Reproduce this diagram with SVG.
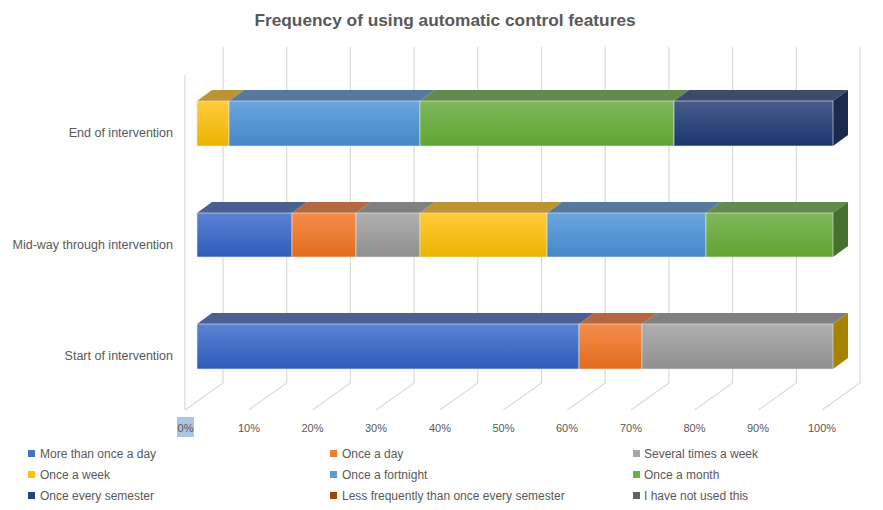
<svg xmlns="http://www.w3.org/2000/svg" width="883" height="510" viewBox="0 0 883 510">
<defs>
<linearGradient id="gBlue" x1="0" y1="0" x2="0" y2="1"><stop offset="0" stop-color="#5c82d3"/><stop offset="1" stop-color="#2e5db9"/></linearGradient>
<linearGradient id="gOrange" x1="0" y1="0" x2="0" y2="1"><stop offset="0" stop-color="#f48c4c"/><stop offset="1" stop-color="#e46b1c"/></linearGradient>
<linearGradient id="gGrey" x1="0" y1="0" x2="0" y2="1"><stop offset="0" stop-color="#b0b0b0"/><stop offset="1" stop-color="#8f8f8f"/></linearGradient>
<linearGradient id="gYellow" x1="0" y1="0" x2="0" y2="1"><stop offset="0" stop-color="#ffcb3c"/><stop offset="1" stop-color="#ebb400"/></linearGradient>
<linearGradient id="gFort" x1="0" y1="0" x2="0" y2="1"><stop offset="0" stop-color="#6ba6df"/><stop offset="1" stop-color="#4487c9"/></linearGradient>
<linearGradient id="gMonth" x1="0" y1="0" x2="0" y2="1"><stop offset="0" stop-color="#7eb85c"/><stop offset="1" stop-color="#61a433"/></linearGradient>
<linearGradient id="gSem" x1="0" y1="0" x2="0" y2="1"><stop offset="0" stop-color="#485b8c"/><stop offset="1" stop-color="#1d356e"/></linearGradient>
</defs>
<style>
.grid{stroke:#d9d9d9;stroke-width:1.2;fill:none}
.txt{font-family:"Liberation Sans",Arial,sans-serif;fill:#595959}
.cat{font-size:12.5px;text-anchor:end}
.ax{font-size:11px;text-anchor:middle}
.leg{font-size:12px}
.title{font-size:17.3px;font-weight:bold;text-anchor:middle}
.front{stroke:#e6e6e6;stroke-width:0.6}
</style>
<rect width="883" height="510" fill="#ffffff"/>
<text class="txt title" x="445" y="26">Frequency of using automatic control features</text>

<g id="gridlines">
<line class="grid" x1="185" y1="75" x2="185" y2="410"/>
<path class="grid" d="M223 47V383L185 410 M286.7 47V383L248.7 410 M350.4 47V383L312.4 410 M414.1 47V383L376.1 410 M477.8 47V383L439.8 410 M541.5 47V383L503.5 410 M605.2 47V383L567.2 410 M668.9 47V383L630.9 410 M732.6 47V383L694.6 410 M796.3 47V383L758.3 410 M860 47V383L822 410"/>
</g>

<g id="axis-labels">
<rect x="177" y="417" width="17" height="20" fill="#a9c7df"/>
<text class="txt ax" x="185.5" y="432">0%</text>
<text class="txt ax" x="249" y="432">10%</text>
<text class="txt ax" x="312.5" y="432">20%</text>
<text class="txt ax" x="376" y="432">30%</text>
<text class="txt ax" x="440" y="432">40%</text>
<text class="txt ax" x="503.5" y="432">50%</text>
<text class="txt ax" x="567" y="432">60%</text>
<text class="txt ax" x="631" y="432">70%</text>
<text class="txt ax" x="694.5" y="432">80%</text>
<text class="txt ax" x="758" y="432">90%</text>
<text class="txt ax" x="822" y="432">100%</text>
</g>

<g id="category-labels">
<text class="txt cat" x="173" y="137">End of intervention</text>
<text class="txt cat" x="173" y="249">Mid-way through intervention</text>
<text class="txt cat" x="173" y="360">Start of intervention</text>
</g>

<g id="bar-end">
<polygon points="197,101 212,90 244,90 229,101" fill="#bd9333"/>
<polygon points="229,101 244,90 435,90 420,101" fill="#5679a2"/>
<polygon points="420,101 435,90 689,90 674,101" fill="#628a4b"/>
<polygon points="674,101 689,90 848,90 833,101" fill="#3e4a69"/>
<polygon points="833,101 848,90 848,135 833,146" fill="#1c2a4e"/>
<rect class="front" x="197" y="101" width="32" height="45" fill="url(#gYellow)"/>
<rect class="front" x="229" y="101" width="191" height="45" fill="url(#gFort)"/>
<rect class="front" x="420" y="101" width="254" height="45" fill="url(#gMonth)"/>
<rect class="front" x="674" y="101" width="159" height="45" fill="url(#gSem)"/>
</g>

<g id="bar-mid">
<polygon points="197,213 212,202 307,202 292,213" fill="#4a6093"/>
<polygon points="292,213 307,202 371,202 356,213" fill="#b56840"/>
<polygon points="356,213 371,202 435,202 420,213" fill="#808080"/>
<polygon points="420,213 435,202 562,202 547,213" fill="#bd9333"/>
<polygon points="547,213 562,202 721,202 706,213" fill="#5679a2"/>
<polygon points="706,213 721,202 848,202 833,213" fill="#628a4b"/>
<polygon points="833,213 848,202 848,246 833,257" fill="#45702f"/>
<rect class="front" x="197" y="213" width="95" height="44" fill="url(#gBlue)"/>
<rect class="front" x="292" y="213" width="64" height="44" fill="url(#gOrange)"/>
<rect class="front" x="356" y="213" width="64" height="44" fill="url(#gGrey)"/>
<rect class="front" x="420" y="213" width="127" height="44" fill="url(#gYellow)"/>
<rect class="front" x="547" y="213" width="159" height="44" fill="url(#gFort)"/>
<rect class="front" x="706" y="213" width="127" height="44" fill="url(#gMonth)"/>
</g>

<g id="bar-start">
<polygon points="197,324 212,313 594,313 579,324" fill="#4a6093"/>
<polygon points="579,324 594,313 657,313 642,324" fill="#b56840"/>
<polygon points="642,324 657,313 848,313 833,324" fill="#808080"/>
<polygon points="833,324 848,313 848,358 833,369" fill="#a58200"/>
<rect class="front" x="197" y="324" width="382" height="45" fill="url(#gBlue)"/>
<rect class="front" x="579" y="324" width="63" height="45" fill="url(#gOrange)"/>
<rect class="front" x="642" y="324" width="191" height="45" fill="url(#gGrey)"/>
</g>

<g id="legend">
<rect x="28" y="450" width="7" height="7" fill="#4472c4"/>
<text class="txt leg" x="40" y="458">More than once a day</text>
<rect x="330" y="450" width="7" height="7" fill="#ed7d31"/>
<text class="txt leg" x="342" y="458">Once a day</text>
<rect x="633" y="450" width="7" height="7" fill="#a5a5a5"/>
<text class="txt leg" x="644" y="458">Several times a week</text>
<rect x="28" y="471" width="7" height="7" fill="#ffc000"/>
<text class="txt leg" x="40" y="479">Once a week</text>
<rect x="330" y="471" width="7" height="7" fill="#5b9bd5"/>
<text class="txt leg" x="342" y="479">Once a fortnight</text>
<rect x="633" y="471" width="7" height="7" fill="#70ad47"/>
<text class="txt leg" x="644" y="479">Once a month</text>
<rect x="28" y="492" width="7" height="7" fill="#264478"/>
<text class="txt leg" x="40" y="500">Once every semester</text>
<rect x="330" y="492" width="7" height="7" fill="#9e480e"/>
<text class="txt leg" x="342" y="500">Less frequently than once every semester</text>
<rect x="633" y="492" width="7" height="7" fill="#636363"/>
<text class="txt leg" x="644" y="500">I have not used this</text>
</g>
</svg>
